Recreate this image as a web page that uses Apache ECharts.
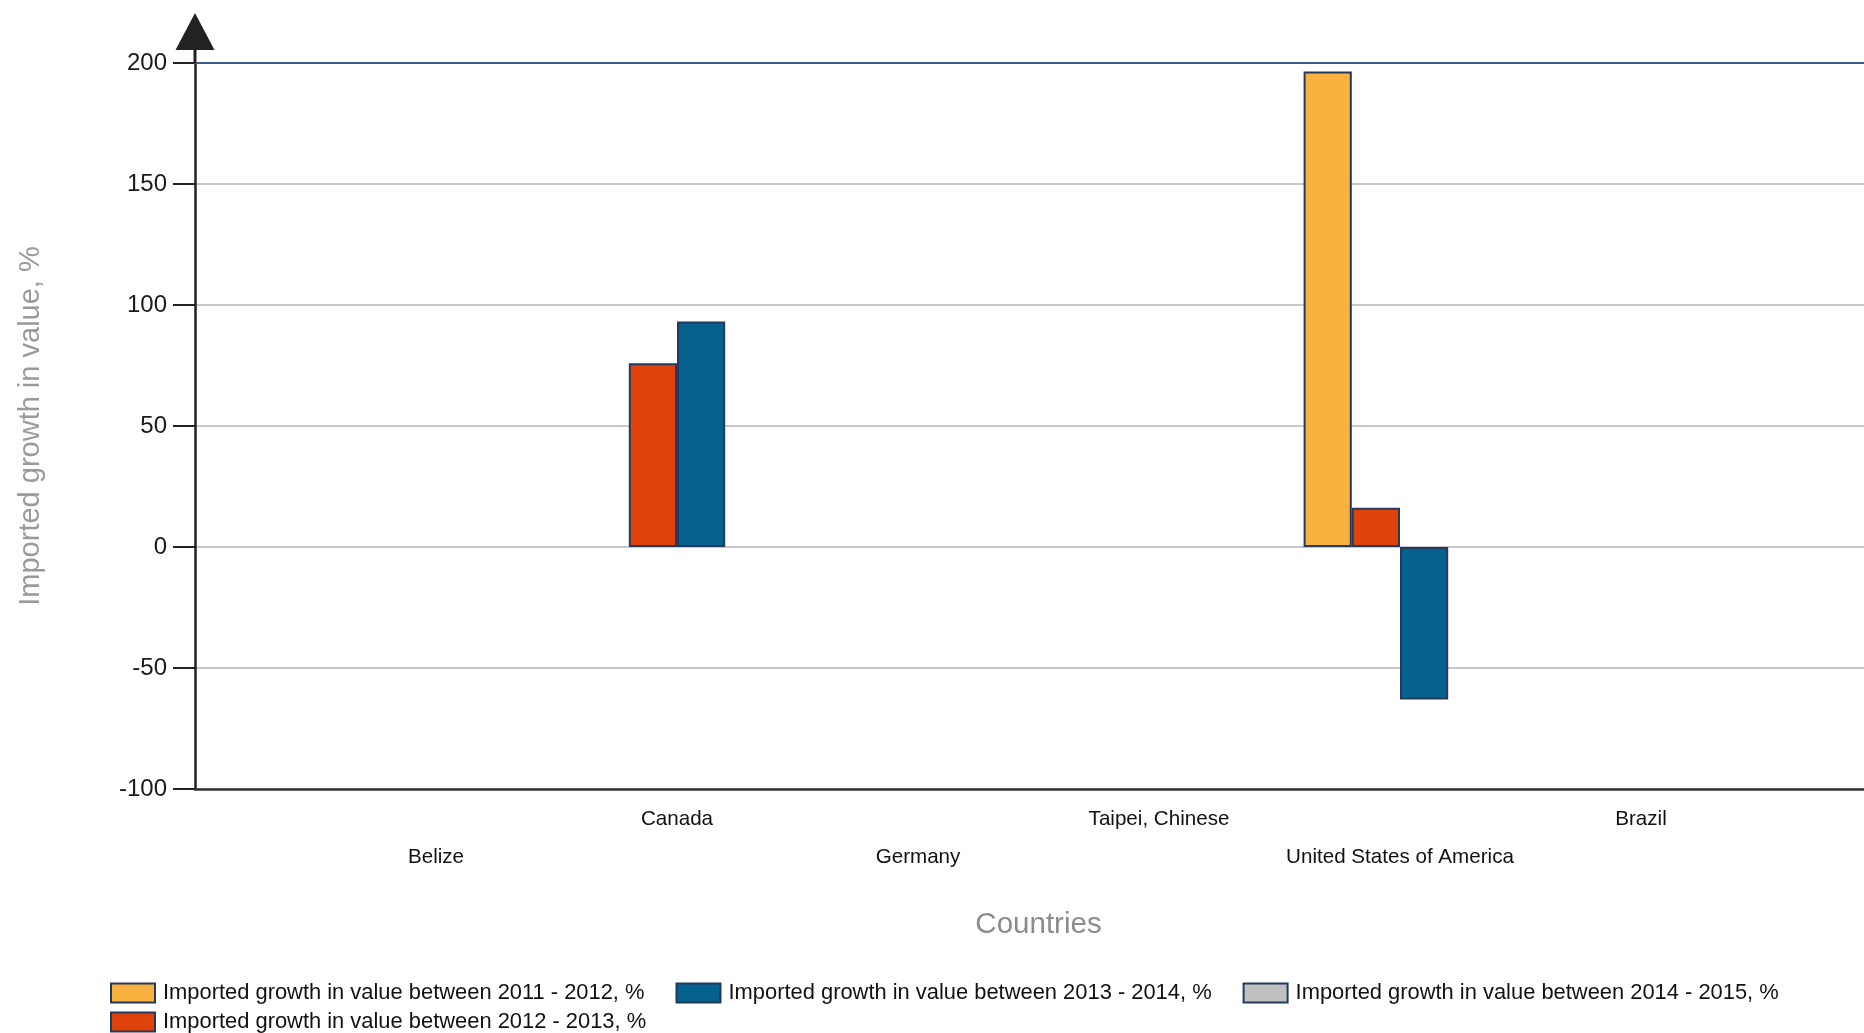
<!DOCTYPE html>
<html>
<head>
<meta charset="utf-8">
<script src="https://cdn.jsdelivr.net/npm/echarts@6/dist/echarts.min.js"></script>
<style>
html,body{margin:0;padding:0;background:#fff;}
#chart{width:1864px;height:1033px;}
</style>
</head>
<body>
<div id="chart"></div>
<script>
// ---- data ----
const categories = ['Belize', 'Canada', 'Germany', 'Taipei, Chinese', 'United States of America', 'Brazil'];
const seriesNames = [
  'Imported growth in value between 2011 - 2012, %',
  'Imported growth in value between 2012 - 2013, %',
  'Imported growth in value between 2013 - 2014, %',
  'Imported growth in value between 2014 - 2015, %'
];
const growth2011_2012 = [null, null, null, null, 196.5, null];
const growth2012_2013 = [null, 75.9, null, null, 16.2, null];
const growth2013_2014 = [null, 93.2, null, null, -63.0, null];
const growth2014_2015 = [null, null, null, null, null, null];
const yTicks = { min: -100, max: 200, interval: 50 };

const seriesValues = [growth2011_2012, growth2012_2013, growth2013_2014, growth2014_2015];
const colors = ['#F9B240', '#E0420C', '#05618E', '#C0C0C0'];

// The category axis runs from an empty slot before the first country to one after the last
const axisData = [''].concat(categories, ['']);
const pad = arr => [null].concat(arr, [null]);

const FONT = '"Liberation Sans", Arial, sans-serif';
const chart = echarts.init(document.getElementById('chart'), null, { renderer: 'canvas' });

const legendText = { fontSize: 21.9, color: '#111', fontFamily: FONT, padding: [0, 0, 0, 3] };

const option = {
  animation: false,
  backgroundColor: '#ffffff',
  textStyle: { fontFamily: FONT },
  grid: { left: 195, top: 63, width: 1687, bottom: 244, containLabel: false, outerBoundsMode: 'none' },
  legend: [
    {
      data: [seriesNames[0], seriesNames[2], seriesNames[3]],
      left: 110, top: 982, padding: 0,
      itemWidth: 44, itemHeight: 19, itemGap: 31,
      icon: 'rect',
      textStyle: legendText
    },
    {
      data: [seriesNames[1]],
      left: 110, top: 1011, padding: 0,
      itemWidth: 44, itemHeight: 19,
      icon: 'rect',
      textStyle: legendText
    }
  ],
  xAxis: [
    {
      type: 'category',
      data: axisData,
      boundaryGap: false,
      position: 'bottom',
      name: 'Countries',
      nameLocation: 'middle',
      nameGap: 121,
      nameTextStyle: { fontSize: 29.5, color: '#8c8c8c', fontFamily: FONT },
      axisLine: { show: true, onZero: false, lineStyle: { color: '#333', width: 2.5 } },
      axisTick: { show: false },
      splitLine: { show: false },
      axisLabel: {
        interval: 0,
        margin: 11,
        fontSize: 20.6,
        lineHeight: 38,
        color: '#111',
        fontFamily: FONT,
        formatter: (v, i) => (i % 2 === 1 ? '\n' + v : v)
      }
    },
    {
      type: 'category',
      data: axisData,
      boundaryGap: false,
      position: 'top',
      axisLine: { show: true, onZero: false, lineStyle: { color: '#3b5b8a', width: 2 } },
      axisTick: { show: false },
      axisLabel: { show: false },
      splitLine: { show: false }
    }
  ],
  yAxis: {
    type: 'value',
    min: yTicks.min,
    max: yTicks.max,
    interval: yTicks.interval,
    name: 'Imported growth in value, %',
    nameLocation: 'middle',
    nameGap: 150,
    nameTextStyle: { fontSize: 29, color: '#9a9a9a', fontFamily: FONT },
    axisLine: {
      show: true,
      onZero: false,
      lineStyle: { color: '#222', width: 2.5 },
      symbol: ['none', 'path://M19.5,0 L39,37 L21,37 L21,50 L18,50 L18,37 L0,37 Z'],
      symbolSize: [39, 50],
      symbolOffset: [0, 25]
    },
    axisTick: { show: true, length: 22, lineStyle: { color: '#222', width: 2 } },
    axisLabel: { margin: 28, fontSize: 24, color: '#1a1a1a', fontFamily: FONT },
    splitLine: { show: true, lineStyle: { color: '#c8c8c8', width: 2 } }
  },
  series: seriesNames.map((name, k) => ({
    name: name,
    type: 'bar',
    xAxisIndex: 0,
    data: pad(seriesValues[k]),
    barGap: '0%',
    barCategoryGap: '20%',
    itemStyle: { color: colors[k], borderColor: '#23395d', borderWidth: 2 }
  }))
};
chart.setOption(option);
</script>
</body>
</html>
